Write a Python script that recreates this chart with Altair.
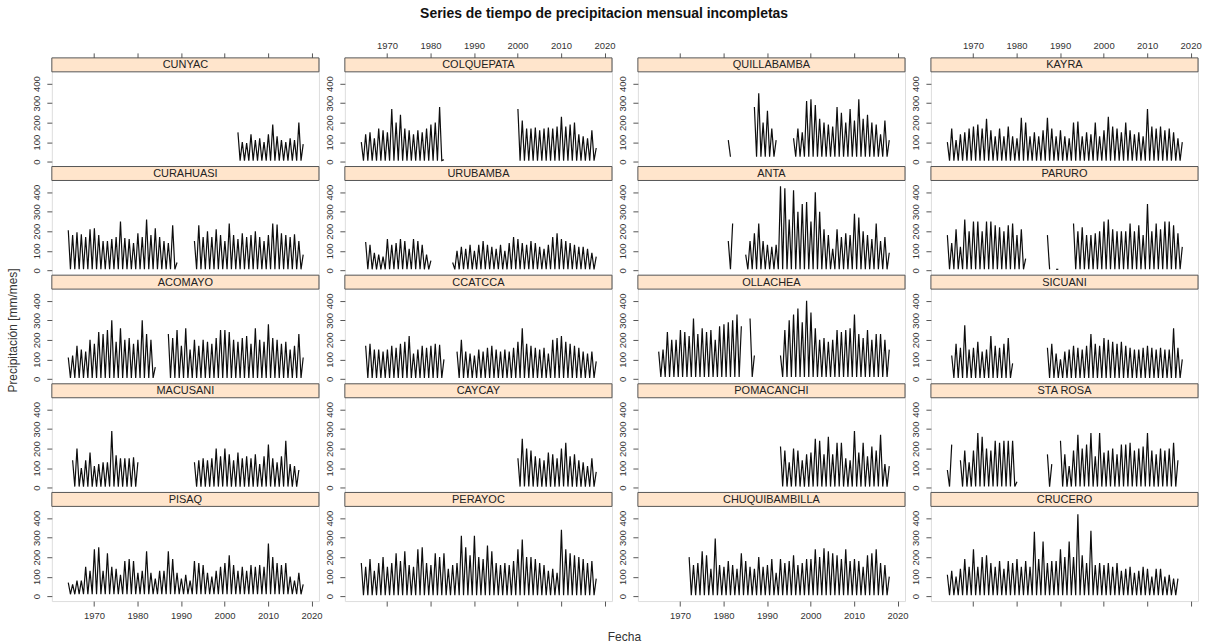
import altair as alt
import pandas as pd

N = None
TITLE = "Series de tiempo de precipitacion mensual incompletas"
Y_TITLE = "Precipitación [mm/mes]"
X_TITLE = "Fecha"
X_TICKS = [1970, 1980, 1990, 2000, 2010, 2020]
Y_TICKS = [0, 100, 200, 300, 400]

# panel order (row-major, 4 columns x 5 rows)
STATIONS = ["CUNYAC", "COLQUEPATA", "QUILLABAMBA", "KAYRA",
            "CURAHUASI", "URUBAMBA", "ANTA", "PARURO",
            "ACOMAYO", "CCATCCA", "OLLACHEA", "SICUANI",
            "MACUSANI", "CAYCAY", "POMACANCHI", "STA ROSA",
            "PISAQ", "PERAYOC", "CHUQUIBAMBILLA", "CRUCERO"]

# first year of each list; annual wet-season peaks (mm/mes), None = missing years
CUNYAC_START = 2003
CUNYAC = [150, 100, 95, 140, 110, 120, 100, 140, 190, 130, 110, 100, 120, 110, 200, 90]

COLQUEPATA_START = 1964
COLQUEPATA = [100, 140, 150, 120, 170, 160, 150, 270, 200, 240, 170, 160, 140, 160, 150, 170, 190, 200, 280, 10,
              N, N, N, N, N, N, N, N, N, N, N, N, N, N, N, N,
              270, 210, 170, 170, 175, 160, 170, 175, 170, 180, 230, 180, 190, 200, 140, 130, 120, 160, 70]

QUILLABAMBA_START = 1981
QUILLABAMBA = [110, N, N, N, N, N,
               280, 350, 200, 260, 170, 110, N, N, N,
               120, 170, 150, 310, 320, 290, 220, 200, 190, 180, 280, 250, 200, 270, 210, 320, 220, 240,
               200, 190, 140, 210, 110]

KAYRA_START = 1964
KAYRA = [100, 170, 110, 140, 150, 170, 180, 190, 170, 220, 160, 130, 170, 130, 180, 130, 120, 225, 200, 130,
         150, 130, 160, 225, 170, 130, 160, 130, 120, 200, 205, 130, 150, 140, 200, 130, 160, 230, 180, 170,
         150, 200, 160, 140, 150, 130, 270, 180, 170, 180, 160, 170, 150, 120, 100]

CURAHUASI_START = 1964
CURAHUASI = [205, 180, 195, 185, 170, 210, 215, 180, 150, 150, 160, 170, 250, 165, 160, 140, 190, 170, 260, 180,
             215, 170, 150, 140, 230, 40, N, N, N,
             150, 230, 170, 200, 170, 210, 180, 150, 240, 180, 160, 190, 170, 180, 200, 170, 150, 180, 240, 235,
             190, 180, 170, 185, 150, 80]

URUBAMBA_START = 1965
URUBAMBA = [145, 130, 90, 80, 70, 160, 130, 140, 160, 150, 110, 160, 150, 130, 80, 50, N, N, N, N,
            40, 100, 120, 110, 130, 100, 130, 150, 130, 120, 110, 130, 100, 140, 170, 160, 140, 130, 150, 140,
            120, 110, 130, 170, 190, 160, 150, 140, 130, 120, 120, 110, 90, 70]

ANTA_START = 1981
ANTA = [150, 240, N, N,
        80, 150, 190, 240, 150, 130, 120, 130, 430, 420, 260, 410, 300, 340, 350, 250, 400, 300, 210, 180,
        110, 210, 170, 190, 180, 290, 270, 200, 180, 160, 240, 150, 170, 90]

PARURO_START = 1964
PARURO = [180, 140, 210, 120, 260, 200, 250, 250, 200, 250, 250, 230, 220, 200, 230, 240, 180, 210, 60,
          N, N, N, N, 180, N, 5, N, N, N,
          240, 200, 220, 180, 180, 190, 200, 250, 260, 210, 200, 200, 200, 240, 200, 230, 180, 340, 200, 240,
          210, 250, 250, 230, 190, 120]

ACOMAYO_START = 1964
ACOMAYO = [110, 120, 170, 150, 140, 200, 180, 240, 230, 250, 300, 190, 260, 200, 210, 180, 200, 300, 230, 200, 60,
           N, N,
           230, 210, 250, 170, 260, 150, 200, 170, 200, 190, 180, 210, 250, 250, 240, 200, 190, 210, 220, 180,
           260, 200, 190, 280, 210, 200, 180, 190, 150, 170, 230, 110]

CCATCCA_START = 1965
CCATCCA = [170, 180, 150, 150, 140, 150, 170, 160, 180, 190, 220, 130, 150, 170, 160, 170, 180, 175, 100, N, N,
           140, 200, 140, 130, 120, 150, 140, 160, 170, 150, 140, 150, 140, 160, 190, 260, 180, 170, 160, 150,
           160, 130, 200, 210, 220, 190, 180, 170, 160, 140, 130, 140, 90]

OLLACHEA_START = 1965
OLLACHEA = [140, 150, 240, 200, 200, 250, 240, 220, 310, 230, 260, 240, 250, 200, 270, 280, 290, 300, 330, 270,
            N, 310, 120, N, N, N, N, N,
            120, 250, 300, 330, 360, 290, 400, 340, 260, 200, 210, 190, 200, 250, 240, 250, 260, 330, 230, 210,
            250, 200, 230, 230, 200, 150]

SICUANI_START = 1965
SICUANI = [120, 180, 160, 275, 150, 160, 190, 140, 150, 220, 170, 160, 180, 210, 80, N, N, N, N, N, N, N,
           160, 180, 130, 100, 140, 150, 170, 160, 150, 170, 230, 180, 170, 210, 200, 190, 180, 190, 170, 160,
           150, 150, 160, 170, 160, 150, 160, 150, 150, 260, 160, 100]

MACUSANI_START = 1965
MACUSANI = [140, 200, 100, 140, 180, 110, 120, 130, 130, 290, 165, 150, 150, 150, 155, 130,
            N, N, N, N, N, N, N, N, N, N, N, N,
            130, 140, 150, 140, 150, 200, 160, 200, 170, 140, 180, 150, 160, 150, 170, 120, 160, 220, 150, 130,
            160, 240, 120, 110, 90]

CAYCAY_START = 2000
CAYCAY = [150, 250, 200, 190, 160, 150, 140, 180, 170, 150, 200, 230, 160, 170, 140, 130, 110, 150, 80]

POMACANCHI_START = 1993
POMACANCHI = [210, 190, 130, 200, 190, 140, 170, 180, 250, 240, 170, 260, 170, 230, 230, 150, 140, 290, 180, 230,
              160, 210, 190, 270, 120, 110]

STA_ROSA_START = 1964
STA_ROSA = [90, 220, N, 140, 190, 130, 190, 280, 260, 200, 190, 240, 230, 240, 240, 240, 30,
            N, N, N, N, N, N, 170, 120, N,
            240, 170, 110, 190, 270, 200, 220, 280, 160, 280, 180, 190, 200, 170, 220, 220, 230, 190, 200, 210,
            280, 190, 170, 200, 190, 200, 230, 140]

PISAQ_START = 1964
PISAQ = [70, 60, 80, 80, 150, 130, 240, 250, 130, 220, 150, 140, 110, 180, 190, 180, 120, 130, 230, 120,
         90, 130, 130, 230, 190, 120, 90, 110, 80, 180, 170, 160, 120, 100, 130, 150, 170, 210, 160, 130,
         150, 130, 160, 150, 160, 150, 270, 200, 170, 160, 170, 100, 80, 120, 60]

PERAYOC_START = 1964
PERAYOC = [170, 150, 190, 130, 170, 200, 150, 170, 220, 180, 230, 160, 150, 240, 250, 170, 160, 220, 200, 220,
           140, 160, 170, 310, 250, 210, 310, 200, 190, 260, 230, 170, 160, 170, 160, 180, 240, 290, 200, 200,
           190, 170, 160, 130, 140, 120, 340, 240, 220, 210, 200, 190, 170, 180, 90]

CHUQUIBAMBILLA_START = 1972
CHUQUIBAMBILLA = [200, 160, 170, 230, 210, 140, 295, 160, 150, 180, 160, 140, 220, 180, 150, 140, 200, 150, 160, 190,
                  120, 190, 170, 180, 210, 160, 170, 190, 190, 240, 200, 245, 230, 220, 210, 190, 240, 180, 190, 180,
                  150, 210, 220, 240, 170, 160, 100]

CRUCERO_START = 1964
CRUCERO = [110, 130, 100, 140, 190, 150, 240, 150, 200, 210, 170, 150, 180, 140, 180, 170, 190, 150, 180, 150,
           330, 190, 280, 170, 180, 180, 240, 200, 280, 200, 420, 210, 170, 335, 160, 170, 160, 170, 150, 170,
           130, 140, 150, 120, 130, 150, 140, 100, 140, 140, 100, 110, 90, 90]

# dry-season minimum level per station (same order as STATIONS)
LOWS = [5, 5, 25, 5, 5, 5, 5, 5, 5, 5, 10, 5, 5, 5, 5, 5, 10, 5, 5, 5]

SERIES = {
    "CUNYAC": (CUNYAC_START, CUNYAC), "COLQUEPATA": (COLQUEPATA_START, COLQUEPATA),
    "QUILLABAMBA": (QUILLABAMBA_START, QUILLABAMBA), "KAYRA": (KAYRA_START, KAYRA),
    "CURAHUASI": (CURAHUASI_START, CURAHUASI), "URUBAMBA": (URUBAMBA_START, URUBAMBA),
    "ANTA": (ANTA_START, ANTA), "PARURO": (PARURO_START, PARURO),
    "ACOMAYO": (ACOMAYO_START, ACOMAYO), "CCATCCA": (CCATCCA_START, CCATCCA),
    "OLLACHEA": (OLLACHEA_START, OLLACHEA), "SICUANI": (SICUANI_START, SICUANI),
    "MACUSANI": (MACUSANI_START, MACUSANI), "CAYCAY": (CAYCAY_START, CAYCAY),
    "POMACANCHI": (POMACANCHI_START, POMACANCHI), "STA ROSA": (STA_ROSA_START, STA_ROSA),
    "PISAQ": (PISAQ_START, PISAQ), "PERAYOC": (PERAYOC_START, PERAYOC),
    "CHUQUIBAMBILLA": (CHUQUIBAMBILLA_START, CHUQUIBAMBILLA), "CRUCERO": (CRUCERO_START, CRUCERO),
}


def station_frame(name, low):
    start, vals = SERIES[name]
    runs, cur = [], []
    for i, v in enumerate(vals):
        if v is None:
            if cur:
                runs.append(cur)
            cur = []
        else:
            cur.append((start + i, v))
    if cur:
        runs.append(cur)
    rows = []
    for s, run in enumerate(runs):
        n = len(run)
        for j, (yr, v) in enumerate(run):
            rows.append({"t": yr + 0.08, "v": v, "seg": s})
            if j < n - 1 or n == 1:
                rows.append({"t": yr + 0.58, "v": low, "seg": s})
    return pd.DataFrame(rows)


FONT = "Liberation Sans"
W, H, STRIP = 268, 109, 14
XDOM = [1960.3, 2021.7]
YDOM = [-25, 460]
AX_COL = "#555555"
LAB_COL = "#333333"


def panel(idx):
    name = STATIONS[idx]
    r, c = divmod(idx, 4)
    df = station_frame(name, LOWS[idx])

    xkw = dict(values=X_TICKS, format="d", tickSize=5, tickColor=AX_COL, domain=False, grid=False,
               labelFont=FONT, labelFontSize=9.5, labelColor=LAB_COL, labelFlush=False)
    if r == 0:
        xaxis = alt.Axis(orient="top", labels=(c % 2 == 1), labelPadding=2, title=None, **xkw)
    elif r == 4:
        if c == 1:
            xaxis = alt.Axis(orient="bottom", labels=False, labelPadding=4, title=X_TITLE, titleX=280,
                             titleY=36, titleAlign="center", titleBaseline="middle", titleFont=FONT,
                             titleFontSize=12, titleFontWeight="normal", titleColor=LAB_COL, **xkw)
        else:
            xaxis = alt.Axis(orient="bottom", labels=(c % 2 == 0), labelPadding=4, title=None, **xkw)
    else:
        xaxis = None

    ykw = dict(values=Y_TICKS, tickSize=5, tickColor=AX_COL, domain=False, grid=False,
               labelFont=FONT, labelFontSize=9.5, labelColor=LAB_COL, labelAngle=270,
               labelAlign="center", labelBaseline="bottom", labelPadding=5)
    if r == 2 and c == 0:
        yaxis = alt.Axis(orient="left", title=Y_TITLE, titleX=-39, titleY=55, titleAngle=270,
                         titleAlign="center", titleBaseline="middle", titleFont=FONT,
                         titleFontSize=12, titleFontWeight="normal", titleColor=LAB_COL, **ykw)
    else:
        yaxis = alt.Axis(orient="left", title=None, **ykw)

    line = alt.Chart(df).mark_line(color="#0d0d0d", strokeWidth=1.2).encode(
        x=alt.X("t:Q", scale=alt.Scale(domain=XDOM, nice=False, zero=False), axis=xaxis),
        y=alt.Y("v:Q", scale=alt.Scale(domain=YDOM, range=[H, STRIP], nice=False, zero=False), axis=yaxis),
        detail="seg:N",
    )
    sdf = pd.DataFrame({"name": [name]})
    strip = alt.Chart(sdf).mark_rect(fill="#FFE5CC", stroke=AX_COL, strokeWidth=1).encode(
        x=alt.value(0), x2=alt.value(W), y=alt.value(0), y2=alt.value(STRIP))
    label = alt.Chart(sdf).mark_text(font=FONT, fontSize=11, color="#222222", baseline="middle",
                                     align="center").encode(
        x=alt.value(W / 2), y=alt.value(STRIP / 2 + 0.5), text="name:N")
    return alt.layer(line, strip, label).properties(width=W, height=H)


chart = alt.concat(*[panel(i) for i in range(20)], columns=4,
                   spacing=alt.RowColnumber(row=0, column=26), bounds="flush").properties(
    title=alt.Title(TITLE, font=FONT, fontSize=14, fontWeight="bold", color="#111111",
                    anchor="middle", offset=20),
    padding={"left": 6, "top": 5, "right": 5, "bottom": 5},
    background="white",
).configure_view(stroke=AX_COL, strokeWidth=1).configure(font=FONT)

chart.save("out.html", embed_options={"renderer": "svg", "actions": False})
